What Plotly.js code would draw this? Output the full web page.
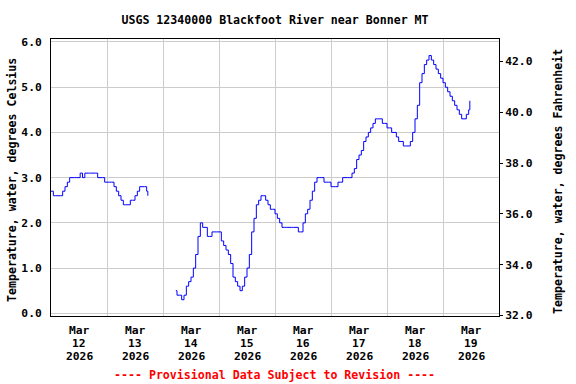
<!DOCTYPE html>
<html>
<head>
<meta charset="utf-8">
<script src="https://cdn.plot.ly/plotly-3.0.1.min.js"></script>
<style>html,body{margin:0;padding:0;background:#fff;}#chart{width:576px;height:384px;}</style>
</head>
<body>
<div id="chart"></div>
<script>
// ---- Data ----
const seg1Times = [
"2026-03-12 00:00","2026-03-12 01:00","2026-03-12 02:00","2026-03-12 03:00","2026-03-12 04:00","2026-03-12 05:00",
"2026-03-12 06:00","2026-03-12 07:00","2026-03-12 08:00","2026-03-12 09:00","2026-03-12 10:00","2026-03-12 11:00",
"2026-03-12 12:00","2026-03-12 12:30","2026-03-12 13:30","2026-03-12 14:30","2026-03-12 15:00","2026-03-12 16:00",
"2026-03-12 17:00","2026-03-12 18:00","2026-03-12 19:00","2026-03-12 20:00","2026-03-12 21:00","2026-03-12 22:00",
"2026-03-12 23:00",
"2026-03-13 00:00","2026-03-13 01:00","2026-03-13 02:00","2026-03-13 03:00","2026-03-13 04:00","2026-03-13 05:00",
"2026-03-13 06:00","2026-03-13 07:00","2026-03-13 08:00","2026-03-13 09:00","2026-03-13 10:00","2026-03-13 11:00",
"2026-03-13 12:00","2026-03-13 13:00","2026-03-13 14:00","2026-03-13 15:00","2026-03-13 16:00","2026-03-13 17:00",
"2026-03-13 17:30"
];
const seg1Temps = [
2.7,2.6,2.6,2.6,2.6,2.7,
2.8,2.9,3.0,3.0,3.0,3.0,
3.0,3.1,3.0,3.1,3.1,3.1,
3.1,3.1,3.1,3.0,3.0,3.0,
2.9,
2.9,2.9,2.9,2.8,2.7,2.6,
2.5,2.4,2.4,2.4,2.5,2.5,
2.6,2.7,2.8,2.8,2.8,2.7,
2.6
];
const gapTime = "2026-03-14 00:00";
const seg2Times = [
"2026-03-14 05:30","2026-03-14 06:00","2026-03-14 07:00","2026-03-14 08:00","2026-03-14 09:00","2026-03-14 10:00",
"2026-03-14 11:00","2026-03-14 12:00","2026-03-14 13:00","2026-03-14 14:00","2026-03-14 15:00","2026-03-14 16:00",
"2026-03-14 17:00","2026-03-14 18:00","2026-03-14 19:00","2026-03-14 20:00","2026-03-14 21:00","2026-03-14 22:00",
"2026-03-14 23:00",
"2026-03-15 00:00","2026-03-15 01:00","2026-03-15 02:00","2026-03-15 03:00","2026-03-15 04:00","2026-03-15 05:00",
"2026-03-15 06:00","2026-03-15 07:00","2026-03-15 08:00","2026-03-15 09:00","2026-03-15 10:00","2026-03-15 11:00",
"2026-03-15 12:00","2026-03-15 13:00","2026-03-15 14:00","2026-03-15 15:00","2026-03-15 16:00","2026-03-15 17:00",
"2026-03-15 18:00","2026-03-15 19:00","2026-03-15 20:00","2026-03-15 21:00","2026-03-15 22:00","2026-03-15 23:00",
"2026-03-16 00:00","2026-03-16 01:00","2026-03-16 02:00","2026-03-16 03:00","2026-03-16 04:00","2026-03-16 05:00",
"2026-03-16 06:00","2026-03-16 07:00","2026-03-16 08:00","2026-03-16 09:00","2026-03-16 10:00","2026-03-16 11:00",
"2026-03-16 12:00","2026-03-16 13:00","2026-03-16 14:00","2026-03-16 15:00","2026-03-16 16:00","2026-03-16 17:00",
"2026-03-16 18:00","2026-03-16 19:00","2026-03-16 20:00","2026-03-16 21:00","2026-03-16 22:00","2026-03-16 23:00",
"2026-03-17 00:00","2026-03-17 01:00","2026-03-17 02:00","2026-03-17 03:00","2026-03-17 04:00","2026-03-17 05:00",
"2026-03-17 06:00","2026-03-17 07:00","2026-03-17 08:00","2026-03-17 09:00","2026-03-17 10:00","2026-03-17 11:00",
"2026-03-17 12:00","2026-03-17 13:00","2026-03-17 14:00","2026-03-17 15:00","2026-03-17 16:00","2026-03-17 17:00",
"2026-03-17 18:00","2026-03-17 19:00","2026-03-17 20:00","2026-03-17 21:00","2026-03-17 22:00","2026-03-17 23:00",
"2026-03-18 00:00","2026-03-18 01:00","2026-03-18 02:00","2026-03-18 03:00","2026-03-18 04:00","2026-03-18 05:00",
"2026-03-18 06:00","2026-03-18 07:00","2026-03-18 08:00","2026-03-18 09:00","2026-03-18 10:00","2026-03-18 11:00",
"2026-03-18 12:00","2026-03-18 13:00","2026-03-18 14:00","2026-03-18 15:00","2026-03-18 16:00","2026-03-18 17:00",
"2026-03-18 18:00","2026-03-18 19:00","2026-03-18 20:00","2026-03-18 21:00","2026-03-18 22:00","2026-03-18 23:00",
"2026-03-19 00:00","2026-03-19 01:00","2026-03-19 02:00","2026-03-19 03:00","2026-03-19 04:00","2026-03-19 05:00",
"2026-03-19 06:00","2026-03-19 07:00","2026-03-19 08:00","2026-03-19 09:00","2026-03-19 10:00","2026-03-19 11:00",
"2026-03-19 11:30"
];
const seg2Temps = [
0.5,0.4,0.4,0.3,0.4,0.6,
0.7,0.8,1.0,1.3,1.7,2.0,
1.9,1.9,1.7,1.7,1.8,1.8,
1.8,
1.8,1.6,1.5,1.4,1.3,1.1,
0.8,0.7,0.6,0.5,0.6,0.8,
1.0,1.3,1.8,2.1,2.4,2.5,
2.6,2.6,2.5,2.4,2.3,2.3,
2.2,2.1,2.0,1.9,1.9,1.9,
1.9,1.9,1.9,1.9,1.8,1.8,
2.0,2.2,2.3,2.5,2.7,2.9,
3.0,3.0,3.0,2.9,2.9,2.9,
2.8,2.8,2.8,2.9,2.9,3.0,
3.0,3.0,3.0,3.1,3.2,3.4,
3.5,3.6,3.8,3.9,4.0,4.1,
4.2,4.3,4.3,4.3,4.2,4.2,
4.1,4.1,4.0,4.0,3.9,3.8,
3.8,3.7,3.7,3.7,3.8,4.0,
4.3,4.6,5.1,5.3,5.5,5.6,
5.7,5.6,5.5,5.4,5.3,5.2,
5.1,5.0,4.9,4.8,4.7,4.6,
4.5,4.4,4.3,4.3,4.4,4.5,
4.7
];
const dayTickVals = ["2026-03-12 12:00","2026-03-13 12:00","2026-03-14 12:00","2026-03-15 12:00",
                     "2026-03-16 12:00","2026-03-17 12:00","2026-03-18 12:00","2026-03-19 12:00"];
const dayTickMonth = ["Mar","Mar","Mar","Mar","Mar","Mar","Mar","Mar"];
const dayTickDay = ["12","13","14","15","16","17","18","19"];
const dayTickYear = ["2026","2026","2026","2026","2026","2026","2026","2026"];
const celsiusTicks = [0,1,2,3,4,5,6];
const celsiusTickText = ["0.0","1.0","2.0","3.0","4.0","5.0","6.0"];
const fahrenheitTicks = [32,34,36,38,40,42];
const fahrenheitTickText = ["32.0","34.0","36.0","38.0","40.0","42.0"];

const titleText = "USGS 12340000 Blackfoot River near Bonner MT";
const leftTitle = "Temperature, water, degrees Celsius";
const rightTitle = "Temperature, water, degrees Fahrenheit";
const footText = "---- Provisional Data Subject to Revision ----";

// ---- Chart ----
const FONT = "DejaVu Sans Mono, monospace";
const PLOT_TOP = 39, PLOT_BOTTOM = 316, PLOT_H = PLOT_BOTTOM - PLOT_TOP;
const pyToPaper = py => (PLOT_BOTTOM - py) / PLOT_H;
const x = seg1Times.concat([gapTime], seg2Times);
const y = seg1Temps.concat([null], seg2Temps);

const traces = [
  {x: x, y: y, type: "scatter", mode: "lines", line: {color: "#0000ff", width: 1, shape: "hv"},
   connectgaps: false, hoverinfo: "skip", showlegend: false},
  {x: [], y: [], type: "scatter", mode: "lines", yaxis: "y2", showlegend: false, hoverinfo: "skip"}
];

const tickFont = {family: FONT, size: 11.3, color: "#000", weight: "bold"};
const annotations = [
  {text: leftTitle, xref: "paper", yref: "paper", x: (12 - 51) / 448, y: pyToPaper(180), xanchor: "center", yanchor: "middle",
   textangle: -90, showarrow: false, font: {family: FONT, size: 11.6, color: "#000", weight: "bold"}},
  {text: rightTitle, xref: "paper", yref: "paper", x: (558 - 51) / 448, y: pyToPaper(182), xanchor: "center", yanchor: "middle",
   textangle: -90, showarrow: false, font: {family: FONT, size: 11.6, color: "#000", weight: "bold"}},
  {text: footText, xref: "paper", yref: "paper", x: (274 - 51) / 448, y: pyToPaper(375), xanchor: "center", yanchor: "middle",
   showarrow: false, font: {family: FONT, size: 11.6, color: "#ff0000", weight: "bold"}}
];
const lineRows = [[dayTickMonth, 330.5], [dayTickDay, 343.3], [dayTickYear, 356]];
lineRows.forEach(([texts, py]) => {
  dayTickVals.forEach((tv, i) => {
    annotations.push({text: texts[i], xref: "x", yref: "paper", x: tv, y: pyToPaper(py),
      xanchor: "center", yanchor: "middle", showarrow: false, font: tickFont});
  });
});

const layout = {
  width: 576, height: 384,
  margin: {l: 51, r: 77, t: PLOT_TOP, b: 384 - PLOT_BOTTOM, pad: 0},
  paper_bgcolor: "#ffffff", plot_bgcolor: "#ffffff",
  showlegend: false,
  title: {text: titleText, x: 0.5, xref: "paper", xanchor: "center", y: 1 - 20/384, yref: "container", yanchor: "middle",
          font: {family: FONT, size: 11.6, color: "#000", weight: "bold"}},
  xaxis: {
    type: "date",
    range: ["2026-03-12 00:00", "2026-03-20 00:00"],
    tickmode: "array", tickvals: dayTickVals, showticklabels: false,
    showgrid: false, ticks: "", zeroline: false,
    showline: true, linecolor: "#000", linewidth: 1, mirror: true,
    minor: {tick0: "2026-03-12 00:00", dtick: 86400000, showgrid: true, gridcolor: "#cccccc", gridwidth: 1, ticks: ""},
    fixedrange: true
  },
  yaxis: {
    range: [-0.06, 6.066],
    tickmode: "array", tickvals: celsiusTicks, ticktext: celsiusTickText,
    showgrid: true, gridcolor: "#cccccc", gridwidth: 1, zeroline: false,
    ticks: "", ticklabelstandoff: 6,
    showline: true, linecolor: "#000", linewidth: 1,
    tickfont: tickFont,
    fixedrange: true
  },
  yaxis2: {
    overlaying: "y", side: "right", anchor: "x",
    range: [31.98, 42.88],
    tickmode: "array", tickvals: fahrenheitTicks, ticktext: fahrenheitTickText,
    showgrid: false, zeroline: false,
    ticks: "outside", ticklen: 3, tickcolor: "#000", tickwidth: 1,
    showline: true, linecolor: "#000", linewidth: 1,
    tickfont: tickFont,
    fixedrange: true
  },
  annotations: annotations
};

Plotly.newPlot("chart", traces, layout, {staticPlot: true, displayModeBar: false});
</script>
</body>
</html>
